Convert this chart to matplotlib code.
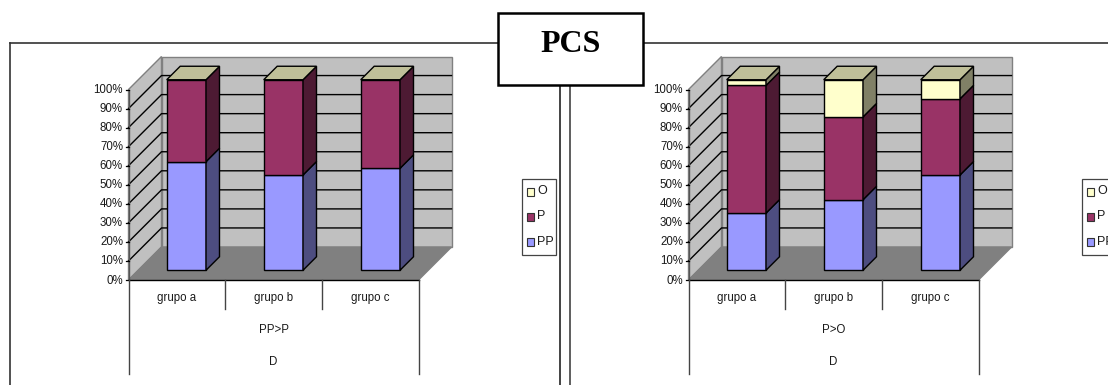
"""Two stacked 100% bar panels drawn with a hand-built 3D box look."""
import matplotlib
matplotlib.use("Agg")
import matplotlib.pyplot as plt
from matplotlib.patches import Polygon, Rectangle

plt.rcParams["font.family"] = ["Liberation Sans", "DejaVu Sans"]

groups = ["grupo a", "grupo b", "grupo c"]
ticks = [0, 10, 20, 30, 40, 50, 60, 70, 80, 90, 100]
series_names = ["PP", "P", "O"]

left_pp = [57, 50, 53.5]
left_p = [43, 50, 46.5]
left_o = [0, 0, 0]

right_pp = [30, 37, 50]
right_p = [67, 43.5, 40]
right_o = [3, 19.5, 10]

FRONT = {"PP": "#9999ff", "P": "#993366", "O": "#ffffcc"}
SIDE = {"PP": "#4d4d80", "P": "#4d1a33", "O": "#808066"}
TOP = "#bfbf99"
FONT = 8.3
TEXT = "#1a1a1a"

AX_W, AX_H = 290, 190.5
DEPTH = 33
BAR_W, BAR_D, BAR_GAP = 39.3, 13.5, 97


def poly(ax, pts, fc, ec="black", lw=1.0, z=2):
    ax.add_patch(Polygon(pts, closed=True, fc=fc, ec=ec, lw=lw, zorder=z))


def draw_panel(ax, x0, y0, pp, p, o, sub_label, legend_x):
    yp = lambda v: y0 - v / 100 * AX_H

    # back and side walls, floor
    poly(ax, [(x0 + DEPTH, y0 - DEPTH), (x0 + AX_W + DEPTH, y0 - DEPTH),
              (x0 + AX_W + DEPTH, yp(100) - DEPTH), (x0 + DEPTH, yp(100) - DEPTH)],
         "#c0c0c0", ec="#808080", z=1)
    poly(ax, [(x0, y0), (x0 + DEPTH, y0 - DEPTH),
              (x0 + DEPTH, yp(100) - DEPTH), (x0, yp(100))],
         "#c0c0c0", ec="#808080", z=1)
    poly(ax, [(x0, y0), (x0 + AX_W, y0), (x0 + AX_W + DEPTH, y0 - DEPTH), (x0 + DEPTH, y0 - DEPTH)],
         "#808080", ec="#808080", z=1)

    # gridlines run along the side wall and across the back, the top edge stays grey
    for t in ticks[1:-1]:
        y = yp(t)
        ax.plot([x0, x0 + DEPTH, x0 + AX_W + DEPTH], [y, y - DEPTH, y - DEPTH],
                color="black", lw=1.0, zorder=1.5)
    ax.plot([x0, x0 + AX_W], [y0, y0], color="black", lw=1.0, zorder=1.6)
    ax.plot([x0, x0], [y0, yp(100)], color="#555555", lw=1.0, zorder=1.6)
    for t in ticks:
        ax.plot([x0 - 3, x0], [yp(t), yp(t)], color="black", lw=0.9, zorder=1.6)
        ax.text(x0 - 5.5, yp(t) + 0.5, f"{t}%", ha="right", va="center", fontsize=FONT, color=TEXT)

    # stacked boxes, lowest segment first
    off = (DEPTH - BAR_D) / 2
    for i, group in enumerate(groups):
        bx = x0 + 38.2 + i * BAR_GAP
        base = 0
        for name, vals in zip(series_names, (pp, p, o)):
            v = vals[i]
            if v <= 0:
                continue
            lo = yp(base) - off
            hi = yp(base + v) - off
            poly(ax, [(bx, lo), (bx + BAR_W, lo), (bx + BAR_W, hi), (bx, hi)], FRONT[name], z=3)
            poly(ax, [(bx + BAR_W, lo), (bx + BAR_W + BAR_D, lo - BAR_D),
                      (bx + BAR_W + BAR_D, hi - BAR_D), (bx + BAR_W, hi)], SIDE[name], z=3)
            base += v
        top = yp(base) - off
        poly(ax, [(bx, top), (bx + BAR_W, top), (bx + BAR_W + BAR_D, top - BAR_D), (bx + BAR_D, top - BAR_D)],
             TOP, z=3)
        ax.text(x0 + (i + 0.5) * AX_W / 3, y0 + 17.5, group, ha="center", va="center",
                fontsize=FONT, color=TEXT)

    # multi-level category axis
    for k in range(4):
        bottom = y0 + 94 if k in (0, 3) else y0 + 28.5
        ax.plot([x0 + k * AX_W / 3] * 2, [y0, bottom], color="#444444", lw=1.0, zorder=2)
    ax.text(x0 + AX_W / 2, y0 + 50, sub_label, ha="center", va="center", fontsize=FONT, color=TEXT)
    ax.text(x0 + AX_W / 2, y0 + 82, "D", ha="center", va="center", fontsize=FONT, color=TEXT)

    # legend box
    ax.add_patch(Rectangle((legend_x, 178.5), 33.5, 76.5, fc="white", ec="#444444", lw=0.9, zorder=2))
    for row, name in enumerate(reversed(series_names)):
        y = 191.5 + row * 25.3
        ax.add_patch(Rectangle((legend_x + 4.3, y - 4), 7, 8, fc=FRONT[name], ec="#333333", lw=0.8, zorder=3))
        ax.text(legend_x + 15, y - 0.5, name, ha="left", va="center", fontsize=FONT + 0.7, color=TEXT, zorder=3)


fig = plt.figure(figsize=(11.08, 3.85), dpi=100)
ax = fig.add_axes([0, 0, 1, 1])
ax.set_xlim(0, 1108)
ax.set_ylim(385, 0)
ax.axis("off")

# outer frames around both panels
ax.plot([9.5, 9.5], [385, 42.7], color="#333333", lw=1.2)
ax.plot([9.5, 1108], [42.7, 42.7], color="#333333", lw=1.2)
ax.plot([559.5, 559.5], [42.7, 385], color="#111111", lw=1.1)
ax.plot([569.5, 569.5], [42.7, 385], color="#333333", lw=1.1)

draw_panel(ax, 128.5, 280, left_pp, left_p, left_o, "PP>P", 522.3)
draw_panel(ax, 688.5, 280, right_pp, right_p, right_o, "P>O", 1082.3)

ax.add_patch(Rectangle((498, 13), 144.5, 72, fc="white", ec="black", lw=1.8, zorder=5))
ax.text(570.5, 44.5, "PCS", ha="center", va="center", fontsize=23, fontweight="bold",
        family="Liberation Serif", zorder=6)

fig.savefig("out.png", dpi=100)
